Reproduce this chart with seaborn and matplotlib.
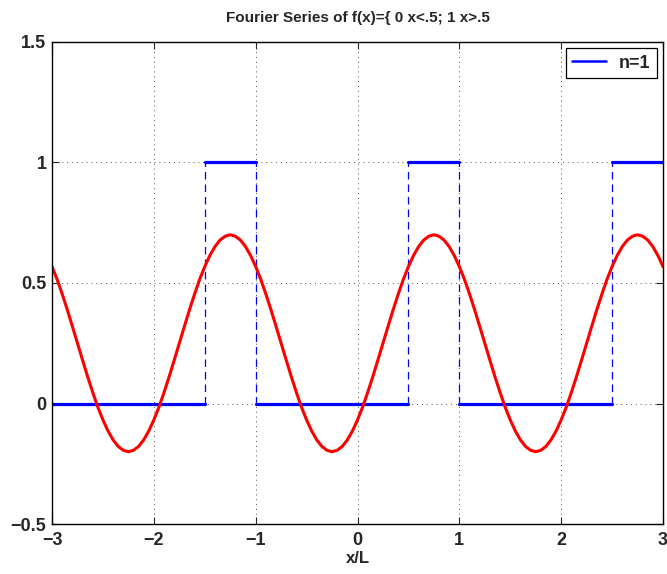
import numpy as np
import pandas as pd
import matplotlib
matplotlib.use("Agg")
import matplotlib.pyplot as plt
import seaborn as sns

# square wave f(x): pieces of the periodic step
seg_start = [-3.0, -1.5, -1.0, 0.5, 1.0, 2.5]
seg_end = [-1.5, -1.0, 0.5, 1.0, 2.5, 3.0]
seg_level = [0, 1, 0, 1, 0, 1]
jumps = [-1.5, -1.0, 0.5, 1.0, 2.5]

# n=1 partial sum, every 0.05 in x
x_fs = np.round(np.linspace(-3, 3, 121), 2)
y_fs = [
    0.568, 0.515, 0.454, 0.389, 0.320, 0.250, 0.180, 0.111, 0.046, -0.015,
    -0.068, -0.114, -0.151, -0.178, -0.194, -0.200, -0.194, -0.178, -0.151, -0.114,
    -0.068, -0.015, 0.046, 0.111, 0.180, 0.250, 0.320, 0.389, 0.454, 0.515,
    0.568, 0.614, 0.651, 0.678, 0.694, 0.700, 0.694, 0.678, 0.651, 0.614,
    0.568, 0.515, 0.454, 0.389, 0.320, 0.250, 0.180, 0.111, 0.046, -0.015,
    -0.068, -0.114, -0.151, -0.178, -0.194, -0.200, -0.194, -0.178, -0.151, -0.114,
    -0.068, -0.015, 0.046, 0.111, 0.180, 0.250, 0.320, 0.389, 0.454, 0.515,
    0.568, 0.614, 0.651, 0.678, 0.694, 0.700, 0.694, 0.678, 0.651, 0.614,
    0.568, 0.515, 0.454, 0.389, 0.320, 0.250, 0.180, 0.111, 0.046, -0.015,
    -0.068, -0.114, -0.151, -0.178, -0.194, -0.200, -0.194, -0.178, -0.151, -0.114,
    -0.068, -0.015, 0.046, 0.111, 0.180, 0.250, 0.320, 0.389, 0.454, 0.515,
    0.568, 0.614, 0.651, 0.678, 0.694, 0.700, 0.694, 0.678, 0.651, 0.614,
    0.568,
]

x_ticks = [-3, -2, -1, 0, 1, 2, 3]
y_ticks = [-0.5, 0, 0.5, 1, 1.5]
y_ticklabels = ["\u22120.5", "0", "0.5", "1", "1.5"]

sns.set_style("ticks")
plt.rcParams["font.family"] = ["Liberation Sans", "DejaVu Sans"]
plt.rcParams["font.weight"] = "bold"

fig = plt.figure(figsize=(6.67, 5.74), dpi=100)
ax = fig.add_axes([0.078, 0.087, 0.916, 0.840])

# solid pieces of the step function
for i, (a, b, lv) in enumerate(zip(seg_start, seg_end, seg_level)):
    sns.lineplot(x=[a, b], y=[lv, lv], color="#0000ff", linewidth=2.3,
                 estimator=None, sort=False, ax=ax,
                 label="n=1" if i == 0 else None)

# dashed jumps
for j in jumps:
    sns.lineplot(x=[j, j], y=[0, 1], color="#0000ff", linewidth=0.9,
                 estimator=None, sort=False, ax=ax, dashes=False,
                 linestyle=(0, (6, 4)))

fs = pd.DataFrame({"x": x_fs, "y": y_fs})
sns.lineplot(data=fs, x="x", y="y", color="#ff0000", linewidth=2.2,
             estimator=None, sort=False, ax=ax)

ax.set_xlim(-3, 3)
ax.set_ylim(-0.5, 1.5)
ax.set_xticks(x_ticks)
ax.set_xticklabels([str(t).replace("-", "\u2212") for t in x_ticks])
ax.set_yticks(y_ticks)
ax.set_yticklabels(y_ticklabels)
ax.tick_params(direction="in", top=True, right=True, length=5, width=0.8,
               labelsize=13, pad=4)
ax.tick_params(axis="x", pad=6)
for lab in ax.get_xticklabels() + ax.get_yticklabels():
    lab.set_fontweight("bold")
for s in ax.spines.values():
    s.set_visible(True)
    s.set_color("black")
    s.set_linewidth(1.0)
ax.grid(True, linestyle=(0, (1, 4)), color="#555555", linewidth=0.7)

ax.set_title("Fourier Series of f(x)={ 0 x<.5; 1 x>.5", fontsize=11,
             fontweight="bold", pad=14)
ax.set_xlabel("x/L", fontsize=12, fontweight="bold", labelpad=1)
ax.set_ylabel("")

leg = ax.legend(loc="upper right", frameon=True, fancybox=False,
                handlelength=1.9, handletextpad=0.7, borderaxespad=0.35,
                borderpad=0.35, prop={"weight": "bold", "size": 13})
leg.get_frame().set_edgecolor("black")
leg.get_frame().set_linewidth(0.9)
leg.get_frame().set_alpha(1)
for h in leg.get_lines():
    h.set_linewidth(1.8)

fig.savefig("out.png", dpi=100)
